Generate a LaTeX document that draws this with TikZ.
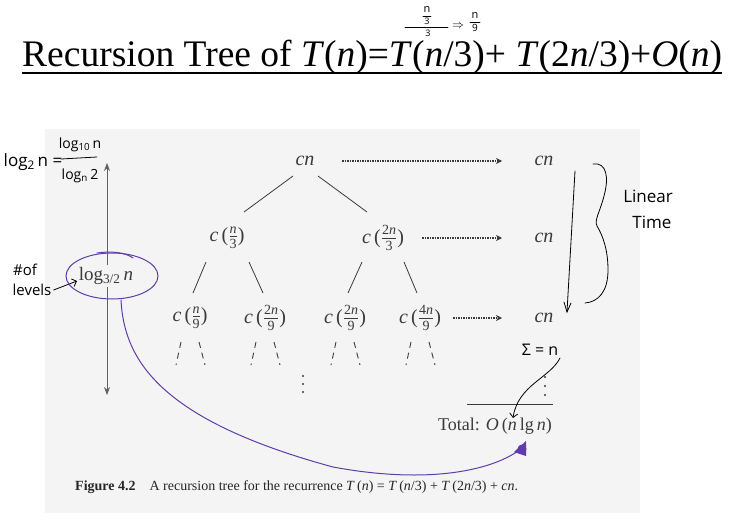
\documentclass[tikz,border=0pt]{standalone}
\usepackage{fontspec}
\usepackage{amsmath}
\usepackage{graphicx}
\setmainfont{Liberation Serif}
\newfontfamily\hand{Open Sans}
\usetikzlibrary{calc,arrows.meta}
\definecolor{bgc}{HTML}{F4F4F4}
\definecolor{ink}{HTML}{3A3A3A}
\definecolor{pen}{RGB}{95,60,170}
\newcommand{\fr}[2]{$\genfrac{}{}{0.5pt}{1}{\text{#1}}{\text{#2}}$}
\newcommand{\cf}[2]{\textit{c}\thinspace(\fr{#1}{#2})}
\begin{document}
\begin{tikzpicture}[x=1pt,y=-1pt,
  tn/.style={font=\fontsize{20}{20}\selectfont, text=ink, inner sep=1pt},
  edge/.style={draw=ink, line width=0.8pt},
  dotarrow/.style={draw=ink, line width=1.5pt, densely dotted, -{Stealth[length=6pt,width=6pt]}},
  stub/.style={draw=ink, line width=0.9pt, dash pattern=on 6pt off 5pt},
  handtxt/.style={font=\hand\fontsize{15}{15}\selectfont, text=black, inner sep=0pt},
  handline/.style={draw=black, line width=0.8pt, line cap=round},
  purp/.style={draw=pen, line width=1pt, line cap=round}]
\useasboundingbox (0,0) rectangle (731,524);
\fill[white] (0,0) rectangle (731,524);
\fill[bgc] (45,129) rectangle (640,513);
% title
\node[anchor=base west, inner sep=0pt] (title) at (22,67)
  {\resizebox{700pt}{!}{\fontsize{33}{33}\selectfont Recursion Tree of \textit{T}(\textit{n})=\textit{T}(\textit{n}/3)+ \textit{T}(2\textit{n}/3)+\textit{O}(\textit{n})}};
\draw[line width=2.2pt] ($(title.base west)+(0,6)$) -- ($(title.base east)+(0,6)$);
% tree
\node[tn] (r) at (305,161) {\textit{cn}};
\node[tn] (a) at (227,238) {\cf{\textit{n}}{3}};
\node[tn] (b) at (383,238) {\cf{2\textit{n}}{3}};
\node[tn] (aa) at (190,318) {\cf{\textit{n}}{9}};
\node[tn] (ab) at (265,318) {\cf{2\textit{n}}{9}};
\node[tn] (ba) at (345,318) {\cf{2\textit{n}}{9}};
\node[tn] (bb) at (420,318) {\cf{4\textit{n}}{9}};
\node[tn] (s0) at (544,161) {\textit{cn}};
\node[tn] (s1) at (544,238) {\textit{cn}};
\node[tn] (s2) at (544,318) {\textit{cn}};
\draw[edge] ($(r)+(-12,15)$) -- ($(a)+(17,-26)$);
\draw[edge] ($(r)+(13,15)$) -- ($(b)+(-16,-26)$);
\draw[edge] ($(a)+(-21,24)$) -- ($(aa)+(3,-25)$);
\draw[edge] ($(a)+(22,24)$) -- ($(ab)+(-2,-25)$);
\draw[edge] ($(b)+(-21,24)$) -- ($(ba)+(3,-25)$);
\draw[edge] ($(b)+(21,24)$) -- ($(bb)+(-3,-25)$);
\draw[dotarrow] ($(r)+(37,0)$) -- ($(s0)+(-42,0)$);
\draw[dotarrow] ($(b)+(39,0)$) -- ($(s1)+(-42,0)$);
\draw[dotarrow] ($(bb)+(33,0)$) -- ($(s2)+(-42,0)$);
\foreach \n in {aa,ab,ba,bb}{
  \draw[stub] ($(\n)+(-9,24)$) -- ($(\n)+(-14,47)$);
  \draw[stub] ($(\n)+(9,24)$) -- ($(\n)+(15,47)$);
}
\foreach \yy in {376,384,392}{\fill[ink] (303,\yy) circle (1.2);}
\foreach \yy in {377,386,395}{\fill[ink] (545,\yy) circle (1.2);}
\coordinate (hl) at (467,404);
\coordinate (hr) at (553,404);
\draw[ink, line width=0.8pt] (hl) -- (hr);
\node[tn, font=\fontsize{18}{18}\selectfont] (tot) at (495,426) {Total: \textit{O}\thinspace(\textit{n}\thinspace lg\thinspace\textit{n})};
% height arrow
\coordinate (lt) at (107,163);
\coordinate (lb) at (107,395);
\draw[draw=ink!80, line width=0.8pt, {Stealth[length=8pt,width=6pt]}-{Stealth[length=8pt,width=6pt]}] (lt) -- (lb);
\node[tn, font=\fontsize{19}{19}\selectfont, fill=bgc, inner sep=2pt] (lv) at (106,276) {log$_{\text{3/2}}$\thinspace\textit{n}};
% caption
\node[anchor=base west, inner sep=0pt, text=black!85] (cap) at (75,490)
  {\resizebox{443pt}{!}{\fontsize{13}{13}\selectfont\textbf{Figure 4.2}\quad A recursion tree for the recurrence \textit{T}\thinspace(\textit{n}) = \textit{T}\thinspace(\textit{n}/3) + \textit{T}\thinspace(2\textit{n}/3) + \textit{cn}.}};
% ---- handwritten notes ----
% top
\node[handtxt, font=\hand\fontsize{11}{11}\selectfont] (tn1) at (427,10) {n};
\draw[handline, line width=0.6pt] (423,16) -- (431,16);
\node[handtxt, font=\hand\fontsize{9}{9}\selectfont] (t3a) at (427,21) {3};
\draw[handline, line width=0.7pt] (405,27) -- (448,27);
\node[handtxt, font=\hand\fontsize{9}{9}\selectfont] (t3b) at (428,33) {3};
\node[handtxt, font=\hand\fontsize{12}{12}\selectfont] (tar) at (458,26) {$\Rightarrow$};
\node[handtxt, font=\hand\fontsize{11}{11}\selectfont] (tn9) at (475,16) {n};
\draw[handline, line width=0.6pt] (470,22) -- (480,22);
\node[handtxt, font=\hand\fontsize{10}{10}\selectfont] (t9) at (475,28) {9};
% log formula
\node[handtxt, font=\hand\fontsize{17}{17}\selectfont] (lg2) at (33,162) {log\textsubscript{2}\thinspace n =};
\node[handtxt, font=\hand\fontsize{14}{14}\selectfont] (lgnum) at (80,145) {log\textsubscript{10}\thinspace n};
\node[handtxt, font=\hand\fontsize{14}{14}\selectfont] (lgden) at (80,176) {log\textsubscript{n}\thinspace 2};
\draw[handline] (61,159) -- (97,157);
% # of levels
\node[handtxt, font=\hand\fontsize{15}{15}\selectfont] (nof) at (25,270) {\#of};
\node[handtxt, font=\hand\fontsize{15}{15}\selectfont] (lev) at (32,290) {levels};
\coordinate (levend) at (77,281);
\draw[handline, -{Straight Barb[length=4pt]}] (lev.east) ++(2,0) -- (levend);
% ellipse around log label
\draw[purp] (112,276) ellipse [x radius=46, y radius=23];
\draw[purp] (97,253) .. controls (110,251) and (125,252) .. (133,258);
% purple long arrow
\coordinate (pst) at (121,300);
\coordinate (pend) at (522,448);
\draw[purp] (pst) .. controls (124,360) and (160,420) .. (333,467)
  .. controls (430,485) and (495,470) .. (pend);
\fill[pen] (514,452) -- (526,441) -- (526,456) -- cycle;
\fill[pen] (522,449) circle (4.5);
% linear time
\coordinate (la1) at (575,171);
\coordinate (la2) at (567,312);
\draw[handline] (la1) -- (la2);
\draw[handline] (564,302) -- (567,312) -- (571,303);
\draw[handline] (593,164) .. controls (607,162) and (609,178) .. (604,196)
  .. controls (600,212) and (594,220) .. (597,226)
  .. controls (603,236) and (608,250) .. (608,270)
  .. controls (608,292) and (598,302) .. (585,303);
\node[handtxt, font=\hand\fontsize{17}{17}\selectfont] (lin) at (648,196) {Linear};
\node[handtxt, font=\hand\fontsize{17}{17}\selectfont] (tim) at (652,222) {Time};
% sum = n
\node[handtxt, font=\hand\fontsize{16}{16}\selectfont] (sig) at (540,350) {Σ = n};
\coordinate (se) at (513,418);
\draw[handline, -{Straight Barb[length=4pt]}] (560,358) .. controls (550,378) and (518,385) .. (se);
\end{tikzpicture}
\end{document}
